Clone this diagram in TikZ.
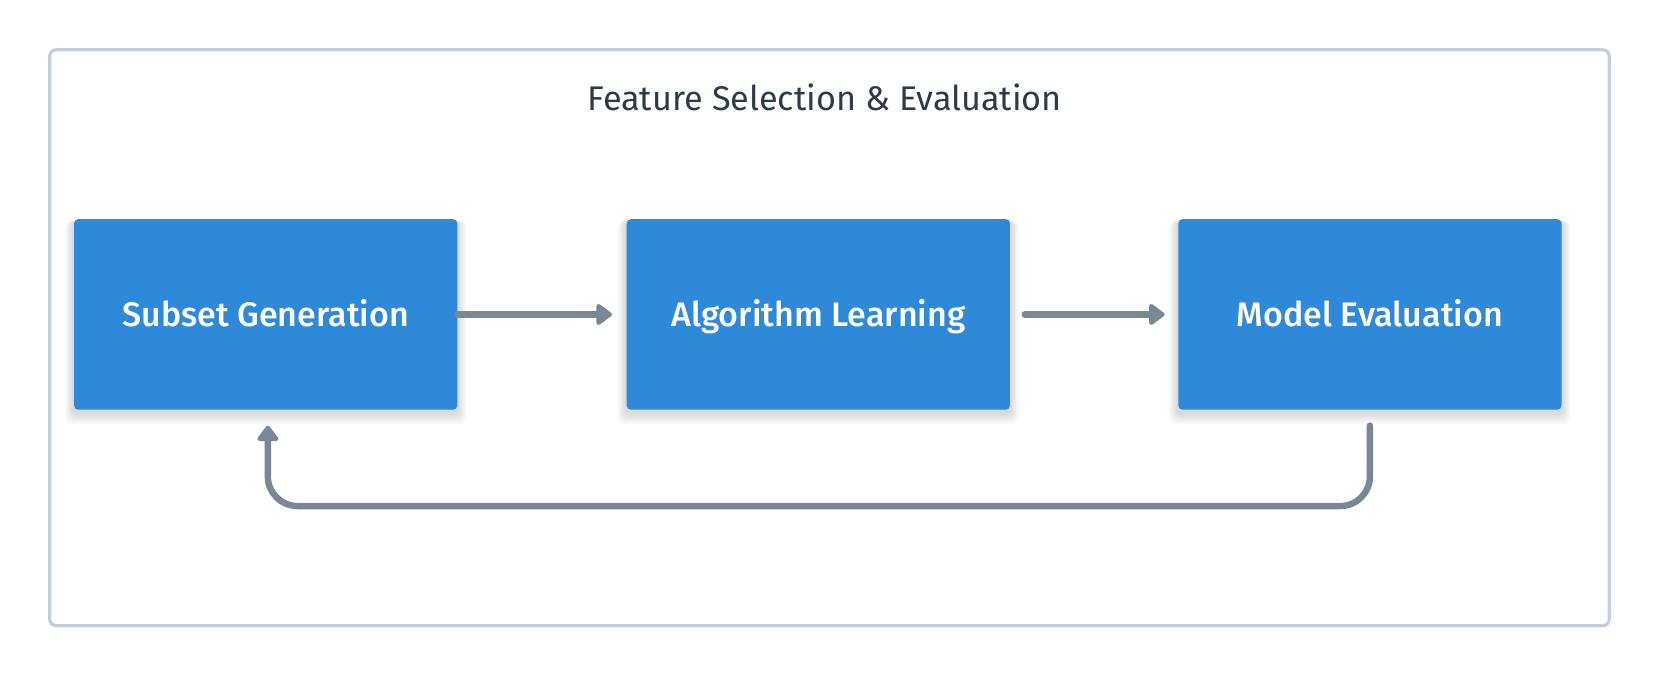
\documentclass[tikz,border=0pt]{standalone}
\usepackage{fontspec}
\setmainfont{Fira Sans}
\newfontfamily\medfont{Fira Sans Medium}
\usetikzlibrary{arrows.meta,backgrounds,positioning}
\definecolor{frame}{HTML}{C3D0DB}
\definecolor{boxblue}{HTML}{2E89D9}
\definecolor{arrowgray}{HTML}{7B8794}
\definecolor{titlecol}{HTML}{2D3A48}
\tikzset{
  stagebox/.style={fill=boxblue, rounded corners=2.1pt, minimum width=191.6pt, minimum height=95.3pt,
    text=white, font=\medfont\fontsize{17}{20}\selectfont, inner sep=0pt,
    text height=11.7pt, text depth=0pt},
  softshade/.style={fill=black, fill opacity=0.022, rounded corners=3pt},
  flow/.style={draw=arrowgray, line width=3.2pt, line cap=round,
    -{Triangle[length=8.5pt,width=12pt,round]}}
}
\begin{document}
\begin{tikzpicture}[x=0.5293pt,y=-0.5293pt]
\useasboundingbox (0,0) rectangle (1568,638.6);
\node[draw=frame, line width=1.6pt, rounded corners=3.2pt, minimum width=779.7pt, minimum height=287.9pt, inner sep=0pt] (frm) at (783.5,319) {};
\node[text=titlecol, font=\fontsize{17.1}{20}\selectfont, text height=11.8pt, text depth=0pt, inner sep=0pt] (title) at (779,93) {Feature Selection \& Evaluation};
\node[stagebox] (sg) at (251,297) {Subset Generation};
\node[stagebox] (al) at (773,297) {Algorithm Learning};
\node[stagebox] (me) at (1294,297) {Model Evaluation};
\begin{scope}[on background layer]
\fill[white] (0,0) rectangle (1568,638.6);
\foreach \n in {sg,al,me}{
  \foreach \i in {1,...,6}{
    \fill[softshade] ([xshift=-\i*0.7pt, yshift=-1.5pt-\i*0.9pt]\n.south west) rectangle ([xshift=\i*0.7pt, yshift=-1pt]\n.north east);
  }
}
\end{scope}
\coordinate (a1s) at (432,297);
\coordinate (a1e) at (578,297);
\coordinate (a2s) at (968,297);
\coordinate (a2e) at (1100,297);
\draw[flow] (a1s) -- (a1e);
\draw[flow] (a2s) -- (a2e);
\coordinate (fbs) at (1294,402);
\coordinate (fbe) at (253,402);
\draw[flow, rounded corners=14.8pt] (fbs) -- (1294,478) -- (253,478) -- (fbe);
\end{tikzpicture}
\end{document}
